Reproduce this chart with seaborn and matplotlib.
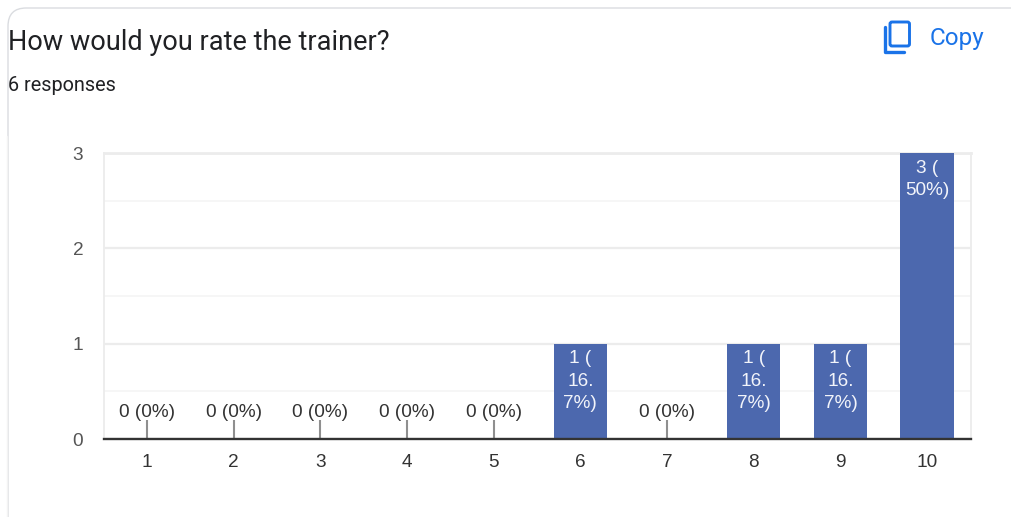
import matplotlib
matplotlib.use("Agg")
import matplotlib.pyplot as plt
from matplotlib.patches import FancyBboxPatch, Rectangle
from matplotlib.lines import Line2D
import seaborn as sns
import pandas as pd

ratings = ["1", "2", "3", "4", "5", "6", "7", "8", "9", "10"]
counts = [0, 0, 0, 0, 0, 1, 0, 1, 1, 3]
bar_labels = ["0 (0%)", "0 (0%)", "0 (0%)", "0 (0%)", "0 (0%)", "1 (\n16.\n7%)",
              "0 (0%)", "1 (\n16.\n7%)", "1 (\n16.\n7%)", "3 (\n50%)"]
y_ticks = [0, 1, 2, 3]
y_minor = [0.5, 1.5, 2.5]
title = "How would you rate the trainer?"
subtitle = "6 responses"

W, H = 1011, 517
sns.set_theme(style="white")
plt.rcParams["font.family"] = ["Liberation Sans", "DejaVu Sans"]
fig = plt.figure(figsize=(W / 100, H / 100), dpi=100, facecolor="white")


def fx(px):
    return px / W


def fy(px):
    return 1 - px / H


# card outline (pixel coordinates, y measured from the top)
card = FancyBboxPatch((fx(8), fy(560)), fx(1040), fy(8) - fy(560),
                      boxstyle="round,pad=0,rounding_size=0.018",
                      mutation_aspect=W / H,
                      transform=fig.transFigure, fc="white", ec="#dadce0", lw=1.0, zorder=0)
fig.add_artist(card)
fig.add_artist(Rectangle((fx(8.5), 0), fx(W), fy(136), transform=fig.transFigure,
                         fc="white", ec="none", zorder=1))
fig.add_artist(Line2D([fx(6.5), fx(6.5)], [0, fy(136)], color="#f3f3f3", lw=1, zorder=1))

ax = fig.add_axes([fx(103.5), fy(439), fx(867), fy(153) - fy(439)], zorder=3)
ax.patch.set_alpha(0)
df = pd.DataFrame({"rating": ratings, "count": counts})
sns.barplot(data=df, x="rating", y="count", color="#4c68ae", saturation=1,
            width=0.615, linewidth=0, ax=ax, zorder=3)
ax.set_xlim(-0.5, 9.5)
ax.set_ylim(0, 3)
ax.set_xlabel("")
ax.set_ylabel("")
ax.set_yticks(y_ticks)
ax.set_yticks(y_minor, minor=True)
ax.grid(False)
ax.grid(True, axis="y", which="major", color="#ececec", lw=1.6, zorder=0)
ax.grid(True, axis="y", which="minor", color="#f6f6f6", lw=1.3, zorder=0)
ax.tick_params(axis="both", which="both", length=0)
ax.tick_params(axis="x", labelsize=13.7, labelcolor="#333333", pad=10.5)
ax.tick_params(axis="y", labelsize=13.7, labelcolor="#555555", pad=14.5)
for side in ["top", "left", "right"]:
    ax.spines[side].set_color("#ececec")
    ax.spines[side].set_linewidth(1.3)
ax.spines["top"].set_linewidth(2)
ax.spines["bottom"].set_color("#333333")
ax.spines["bottom"].set_linewidth(1.7)
ax.spines["bottom"].set_zorder(6)

for i, (count, label) in enumerate(zip(counts, bar_labels)):
    if count == 0:
        ax.plot([i, i], [0, 0.2], color="#8f8f8f", lw=1.5, zorder=4, solid_capstyle="butt")
        ax.annotate(label, (i, 0), xytext=(0, 13.3), textcoords="offset points",
                    ha="center", va="bottom", fontsize=13.7, color="#333333",
                    zorder=5, annotation_clip=False)
    else:
        ax.annotate(label, (i, count), xytext=(0, -4.8), textcoords="offset points",
                    ha="center", va="top", fontsize=13.7, color="#f2f4fa",
                    linespacing=1.42, zorder=5)

# header text
fig.text(fx(8), fy(43), title, family="Roboto", fontsize=19.5, color="#202124",
         ha="left", va="center", zorder=4)
fig.text(fx(8), fy(86), subtitle, family="Roboto", fontsize=14.3, color="#202124",
         ha="left", va="center", zorder=4)
fig.text(fx(930), fy(39), "Copy", family="Roboto", fontsize=17.5, color="#1a73e8",
         ha="left", va="center", zorder=4)

# copy icon
blue = "#1a73e8"
fig.add_artist(FancyBboxPatch((fx(890), fy(46)), fx(19.5), fy(22) - fy(46),
                              boxstyle="round,pad=0,rounding_size=0.002",
                              mutation_aspect=W / H, transform=fig.transFigure,
                              fc="none", ec=blue, lw=2.1, zorder=4))
fig.add_artist(Line2D([fx(885), fx(885), fx(904)], [fy(27), fy(51.5), fy(51.5)],
                      color=blue, lw=2.4, zorder=4, solid_joinstyle="round"))

fig.savefig("out.png", dpi=100)
